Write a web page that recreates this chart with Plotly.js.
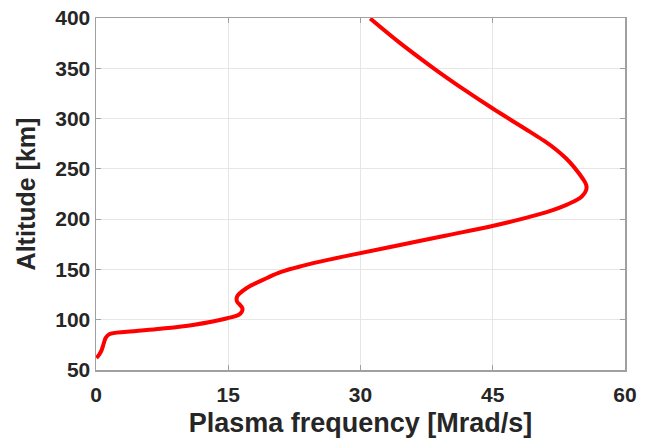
<!DOCTYPE html>
<html>
<head>
<meta charset="utf-8">
<script src="https://cdn.plot.ly/plotly-3.0.1.min.js"></script>
<style>html,body{margin:0;padding:0;background:#fff;}#chart{width:662px;height:441px;}</style>
</head>
<body>
<div id="chart"></div>
<script>
// Plasma frequency [Mrad/s] vs altitude [km]
const plasmaFrequency = [0.05, 0.3, 0.6, 0.9, 1.1, 1.5, 3.5, 7.3, 11.0, 14.9, 16.2, 16.55, 16.6, 16.3, 16.0, 16.0, 17.1, 19.4, 21.0, 23.4, 26.3, 29.0, 33.8, 39.6, 44.6, 47.3, 49.9, 51.8, 53.3, 54.4, 55.1, 55.6, 55.6, 55.3, 54.2, 53.3, 52.2, 50.8, 49.2, 45.0, 41.8, 38.3, 34.5, 31.1];
const altitude = [62, 64.5, 69, 77, 82, 85.5, 88, 91, 94.8, 101.5, 105, 108, 111.5, 115, 118, 123, 131.5, 141.5, 147.5, 153.5, 159.5, 164.5, 173, 183.5, 192.5, 198, 204, 209, 214, 218.5, 222.5, 229, 234, 239, 252, 260.5, 269, 278, 287, 310, 328.5, 350, 375, 399.5];
const xTicks = [0, 15, 30, 45, 60];
const yTicks = [50, 100, 150, 200, 250, 300, 350, 400];

const fontFam = '"Liberation Sans", Arial, Helvetica, sans-serif';
const txtColor = '#262626';

const trace = {
  x: plasmaFrequency,
  y: altitude,
  type: 'scatter',
  mode: 'lines',
  line: {color: '#ff0000', width: 4, shape: 'spline', smoothing: 1.0},
  hoverinfo: 'skip'
};

const axisCommon = {
  showline: true, linecolor: '#a0a0a0', linewidth: 1.5, mirror: 'ticks',
  ticks: 'inside', ticklen: 5, tickcolor: '#a0a0a0', tickwidth: 1,
  showgrid: true, gridcolor: '#e6e6e6', gridwidth: 1,
  zeroline: false, automargin: false,
  tickfont: {family: fontFam, size: 21, color: txtColor, weight: 'bold'}
};

const layout = {
  width: 662, height: 441,
  margin: {l: 96, r: 37, t: 18, b: 71},
  paper_bgcolor: '#ffffff', plot_bgcolor: '#ffffff',
  showlegend: false,
  xaxis: Object.assign({}, axisCommon, {
    range: [0, 60], tickmode: 'array', tickvals: xTicks, ticktext: xTicks.map(String),
    ticklabelstandoff: 5,
    title: {text: 'Plasma frequency [Mrad/s]', standoff: 8, font: {family: fontFam, size: 27, color: txtColor, weight: 'bold'}}
  }),
  yaxis: Object.assign({}, axisCommon, {
    range: [50, 400], tickmode: 'array', tickvals: yTicks, ticktext: yTicks.map(String),
    title: {text: 'Altitude [km]', standoff: 12, font: {family: fontFam, size: 25, color: txtColor, weight: 'bold'}}
  })
};

Plotly.newPlot('chart', [trace], layout, {staticPlot: true, displayModeBar: false});
</script>
</body>
</html>
